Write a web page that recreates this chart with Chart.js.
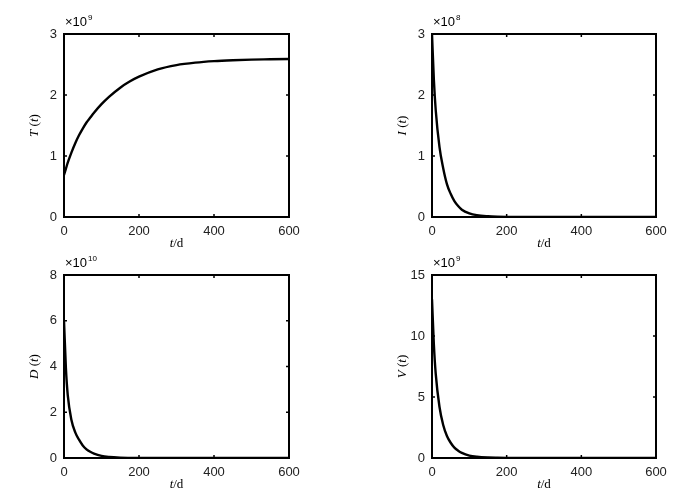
<!DOCTYPE html>
<html>
<head>
<meta charset="utf-8">
<script src="https://cdn.jsdelivr.net/npm/chart.js@4"></script>
<style>
  body { margin: 0; background: #fff; }
  #wrap { position: relative; width: 700px; height: 494px; }
  #wrap canvas { position: absolute; left: 0; top: 0; }
</style>
</head>
<body>
<div id="wrap">
  <canvas id="chartT" width="700" height="494"></canvas>
  <canvas id="chartI" width="700" height="494"></canvas>
  <canvas id="chartD" width="700" height="494"></canvas>
  <canvas id="chartV" width="700" height="494"></canvas>
</div>
<script>
// time in days
var tDays = [0, 5, 10, 20, 30, 40, 50, 60, 70, 80, 100, 120, 150, 175, 200, 250, 300, 350, 400, 450, 500, 550, 600];
// T(t) x1e9
var tCells = [0.69, 0.79, 0.89, 1.06, 1.21, 1.34, 1.45, 1.55, 1.63, 1.71, 1.85, 1.97, 2.12, 2.22, 2.30, 2.42, 2.49, 2.53, 2.555, 2.57, 2.58, 2.585, 2.59];
// I(t) x1e8
var iCells = [3.0, 2.25, 1.75, 1.15, 0.8, 0.54, 0.38, 0.26, 0.18, 0.12, 0.06, 0.03, 0.012, 0.005, 0.002, 0, 0, 0, 0, 0, 0, 0, 0];
// D(t) x1e10
var dCells = [6.0, 3.95, 2.75, 1.65, 1.12, 0.8, 0.55, 0.38, 0.27, 0.19, 0.09, 0.045, 0.015, 0.006, 0.002, 0, 0, 0, 0, 0, 0, 0, 0];
// V(t) x1e9
var vVirus = [13.0, 9.3, 6.9, 4.2, 2.7, 1.8, 1.25, 0.85, 0.6, 0.42, 0.2, 0.1, 0.035, 0.015, 0.006, 0.001, 0, 0, 0, 0, 0, 0, 0];

var xTicks = [0, 200, 400, 600];

var tickFont = { family: 'Liberation Sans', size: 13 };

function pts(vals) {
    return tDays.map(function (t, i) { return { x: t, y: vals[i] }; });
}

// draws a row of text pieces, each with its own font
function drawPieces(ctx, pieces, x, y) {
    var total = 0;
    pieces.forEach(function (p) { ctx.font = p.font; total += ctx.measureText(p.text).width; });
    var cx = x - total / 2;
    pieces.forEach(function (p) {
        ctx.font = p.font;
        ctx.fillText(p.text, cx, y);
        cx += ctx.measureText(p.text).width;
    });
}

var framePlugin = {
    id: 'frame',
    afterDraw: function (chart, args, o) {
        var ctx = chart.ctx, a = chart.chartArea;
        var xs = chart.scales.x, ys = chart.scales.y;
        ctx.save();
        ctx.strokeStyle = '#000';
        ctx.fillStyle = '#000';
        // inward ticks
        ctx.lineWidth = 1.5;
        ctx.beginPath();
        xs.ticks.forEach(function (t) {
            var px = xs.getPixelForValue(t.value);
            ctx.moveTo(px, a.bottom); ctx.lineTo(px, a.bottom - 3);
            ctx.moveTo(px, a.top); ctx.lineTo(px, a.top + 3);
        });
        ys.ticks.forEach(function (t) {
            var py = ys.getPixelForValue(t.value);
            ctx.moveTo(a.left, py); ctx.lineTo(a.left + 3, py);
            ctx.moveTo(a.right, py); ctx.lineTo(a.right - 3, py);
        });
        ctx.stroke();
        // box
        ctx.lineWidth = 2;
        ctx.strokeRect(a.left, a.top, a.right - a.left, a.bottom - a.top);
        // exponent label
        ctx.textBaseline = 'alphabetic';
        ctx.font = '13px "Liberation Sans"';
        ctx.fillText('\u00d710', a.left + 1, a.top - 8);
        var w = ctx.measureText('\u00d710').width;
        ctx.font = '8px "Liberation Sans"';
        ctx.fillText(o.exp, a.left + 1 + w + 1, a.top - 14);
        // x title t/d
        ctx.textBaseline = 'middle';
        drawPieces(ctx, [
            { text: 't', font: 'italic 13px "Liberation Serif"' },
            { text: '/d', font: '13px "Liberation Serif"' }
        ], (a.left + a.right) / 2, a.bottom + 27);
        // y title
        ctx.translate(a.left - 29, (a.top + a.bottom) / 2);
        ctx.rotate(-Math.PI / 2);
        drawPieces(ctx, [
            { text: o.name, font: 'italic 13px "Liberation Serif"' },
            { text: ' (', font: '13px "Liberation Serif"' },
            { text: 't', font: 'italic 13px "Liberation Serif"' },
            { text: ')', font: '13px "Liberation Serif"' }
        ], 0, 0);
        ctx.restore();
    }
};

function makeChart(id, vals, box, yMax, yStep, name, exp) {
    var ctx = document.getElementById(id).getContext('2d');
    return new Chart(ctx, {
        type: 'line',
        data: {
            datasets: [{
                data: pts(vals),
                borderColor: '#000',
                borderWidth: 2.4,
                pointRadius: 0,
                fill: false,
                cubicInterpolationMode: 'monotone'
            }]
        },
        options: {
            responsive: false,
            animation: false,
            layout: {
                padding: { left: box.left - 64, top: box.top, right: 700 - box.right, bottom: 494 - box.bottom - 36 }
            },
            plugins: {
                legend: { display: false },
                tooltip: { enabled: false },
                frame: { name: name, exp: exp }
            },
            scales: {
                x: {
                    type: 'linear',
                    min: 0, max: 600,
                    afterBuildTicks: function (s) { s.ticks = xTicks.map(function (v) { return { value: v }; }); },
                    afterFit: function (s) { s.height = 36; },
                    grid: { display: false, drawTicks: false },
                    border: { display: false },
                    ticks: { font: tickFont, color: '#222', padding: 7, maxRotation: 0 }
                },
                y: {
                    min: 0, max: yMax,
                    ticks: { stepSize: yStep, font: tickFont, color: '#222', padding: 7 },
                    afterFit: function (s) { s.width = 64; },
                    grid: { display: false, drawTicks: false },
                    border: { display: false }
                }
            }
        },
        plugins: [framePlugin]
    });
}

makeChart('chartT', tCells, { left: 64, top: 34, right: 289, bottom: 217 }, 3, 1, 'T', '9');
makeChart('chartI', iCells, { left: 432, top: 34, right: 656, bottom: 217 }, 3, 1, 'I', '8');
makeChart('chartD', dCells, { left: 64, top: 275, right: 289, bottom: 458 }, 8, 2, 'D', '10');
makeChart('chartV', vVirus, { left: 432, top: 275, right: 656, bottom: 458 }, 15, 5, 'V', '9');
</script>
</body>
</html>
